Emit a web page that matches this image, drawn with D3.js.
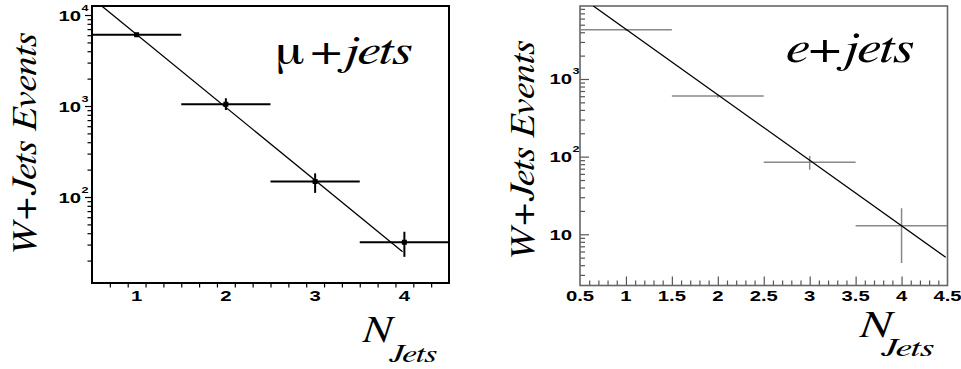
<!DOCTYPE html>
<html lang="en">
<head>
<meta charset="utf-8">
<title>W+jets vs N jets</title>
<script src="https://cdn.jsdelivr.net/npm/d3@7"></script>
<style>
  body { margin:0; background:#fff; }
  svg { display:block; }
  .tick-lbl { font-family:"Liberation Sans", Arial, sans-serif; font-weight:bold; fill:#000; }
  .title { fill:#000; }
</style>
</head>
<body>
<script>
// ---- data ----
// mu+jets
var muN     = [1, 2, 3, 4];
var muY     = [6070, 1045, 148, 31.8];
var muYLo   = [5800, 904, 111, 22];
var muYHi   = [6350, 1216, 182, 41.5];
var muFitN  = [0.609, 3.98];
var muFitY  = [12560, 25];
// e+jets
var eN      = [1, 2, 3, 4];
var eY      = [4300, 604, 84.7, 12.9];
var eYLo    = [4150, 575, 68, 4.27];
var eYHi    = [4450, 635, 102, 21.6];
var eFitN   = [0.645, 4.48];
var eFitY   = [8710, 5.06];
// bins
var binHalf = 0.5;
// axes
var xDomain    = [0.5, 4.5];
var muYDomain  = [11.35, 12560];
var eYDomain   = [2.19, 8710];
var muXLabels  = [1, 2, 3, 4];
var eXLabels   = [0.5, 1, 1.5, 2, 2.5, 3, 3.5, 4, 4.5];
var muYLabels  = [100, 1000, 10000];
var eYLabels   = [10, 100, 1000];

var SERIF = "FreeSerif, 'Liberation Serif', 'Times New Roman', serif";
var W = 961, H = 369;
var svg = d3.select("body").append("svg").attr("width", W).attr("height", H);

// stretch a text so its box spans x0..x1 (horizontal) keeping baseline
function fitH(t, x0, x1, base) {
  var b = t.node().getBBox();
  var s = (x1 - x0) / b.width;
  t.attr("transform", "translate(" + (x0 - b.x * s) + "," + base + ") scale(" + s + ",1)");
}
// rotated -90, text runs upward from yStart to yEnd, baseline at x
function fitV(t, x, yStart, yEnd) {
  var b = t.node().getBBox();
  var s = (yStart - yEnd) / b.width;
  t.attr("transform", "translate(" + x + "," + (yStart + b.x * s) + ") rotate(-90) scale(" + s + ",1)");
}

function minorLog(dom) {
  var out = [];
  for (var e = -1; e < 6; e++) {
    for (var k = 2; k < 10; k++) {
      var v = k * Math.pow(10, e);
      if (v >= dom[0] && v <= dom[1]) out.push(v);
    }
  }
  return out;
}
function majorLog(dom) {
  var out = [];
  for (var e = -1; e < 6; e++) {
    var v = Math.pow(10, e);
    if (v >= dom[0] && v <= dom[1]) out.push(v);
  }
  return out;
}

function panel(cfg) {
  var x = d3.scaleLinear().domain(xDomain).range([cfg.x0, cfg.x1]);
  var y = d3.scaleLog().domain(cfg.yDomain).range([cfg.y1, cfg.y0]);
  var g = svg.append("g");

  var clipId = "clip" + cfg.id;
  svg.append("clipPath").attr("id", clipId).append("rect")
    .attr("x", cfg.x0).attr("y", cfg.y0)
    .attr("width", cfg.x1 - cfg.x0).attr("height", cfg.y1 - cfg.y0);

  // y ticks
  var inner = cfg.inside ? -1 : 1;
  var yMinor = g.append("g").attr("transform", "translate(" + cfg.x0 + ",0)")
    .call(d3.axisLeft(y).tickValues(minorLog(cfg.yDomain)).tickSize(inner * cfg.minLen).tickFormat(""));
  var yMajor = g.append("g").attr("transform", "translate(" + cfg.x0 + ",0)")
    .call(d3.axisLeft(y).tickValues(majorLog(cfg.yDomain)).tickSize(inner * cfg.majLen).tickFormat(""));
  // x ticks
  var xMinorVals = d3.range(0.5, 4.51, cfg.xMinStep).map(function(v){ return Math.round(v*10)/10; })
    .filter(function(v){ return cfg.xMajors.indexOf(v) < 0 && v > 0.5 && v < 4.5; });
  var xMinor = g.append("g").attr("transform", "translate(0," + cfg.y1 + ")")
    .call(d3.axisBottom(x).tickValues(xMinorVals).tickSize(inner * cfg.minLen).tickFormat(""));
  var xMajor = g.append("g").attr("transform", "translate(0," + cfg.y1 + ")")
    .call(d3.axisBottom(x).tickValues(cfg.xMajors).tickSize(inner * cfg.majLen).tickFormat(""));
  [yMinor, yMajor, xMinor, xMajor].forEach(function(a){
    a.select(".domain").remove();
    a.selectAll(".tick line").attr("stroke", cfg.tickColor).attr("stroke-width", cfg.tickW);
  });

  // frame
  g.append("rect").attr("x", cfg.x0).attr("y", cfg.y0)
    .attr("width", cfg.x1 - cfg.x0).attr("height", cfg.y1 - cfg.y0)
    .attr("fill", "none").attr("stroke", cfg.frameColor).attr("stroke-width", cfg.frameW);

  // x tick labels
  cfg.xLabels.forEach(function(v){
    g.append("text").attr("class", "tick-lbl").attr("font-size", 14.5)
      .attr("text-anchor", "middle")
      .attr("transform", "translate(" + x(v) + "," + cfg.xLblBase + ") scale(1.4,1)")
      .text(v);
  });
  // y tick labels (10 with exponent)
  cfg.yLabels.forEach(function(v){
    var lg = g.append("g")
      .attr("transform", "translate(" + cfg.yLblRight + "," + (y(v) + 5.5) + ") scale(1.4,1)");
    lg.append("text").attr("class", "tick-lbl").attr("font-size", 14.5)
      .attr("text-anchor", "end").text("10");
    var ex = Math.round(Math.log10(v));
    if (ex > 1) {
      lg.append("text").attr("class", "tick-lbl").attr("font-size", 9)
        .attr("y", -10).attr("x", 0.3).text(ex);
    }
  });

  // data
  var pts = cfg.n.map(function(n, i){
    return { n: n, y: cfg.y[i], lo: cfg.lo[i], hi: cfg.hi[i] };
  });
  var d = g.append("g").attr("clip-path", "url(#" + clipId + ")");
  d.selectAll(".hbar").data(pts).enter().append("line")
    .attr("x1", function(p){ return x(p.n - binHalf); })
    .attr("x2", function(p){ return x(p.n + binHalf); })
    .attr("y1", function(p){ return y(p.y); })
    .attr("y2", function(p){ return y(p.y); })
    .attr("stroke", cfg.errColor).attr("stroke-width", cfg.errW);
  d.selectAll(".vbar").data(pts).enter().append("line")
    .attr("x1", function(p){ return x(p.n); })
    .attr("x2", function(p){ return x(p.n); })
    .attr("y1", function(p){ return y(p.lo); })
    .attr("y2", function(p){ return y(p.hi); })
    .attr("stroke", cfg.errColor).attr("stroke-width", cfg.errW);
  if (cfg.marker) {
    d.selectAll(".pt").data(pts).enter().append("rect")
      .attr("x", function(p){ return x(p.n) - 2.5; })
      .attr("y", function(p){ return y(p.y) - 2.5; })
      .attr("width", 5).attr("height", 5).attr("fill", "#000");
  }
  // fit
  var fit = cfg.fitN.map(function(n, i){ return [n, cfg.fitY[i]]; });
  d.append("path").datum(fit)
    .attr("d", d3.line().x(function(p){ return x(p[0]); }).y(function(p){ return y(p[1]); }))
    .attr("fill", "none").attr("stroke", "#000").attr("stroke-width", 1.3);

  // y title
  var yt = svg.append("text").attr("class", "title").attr("font-family", SERIF)
    .attr("font-size", 35).attr("font-style", "italic").text("W+Jets Events");
  fitV(yt, cfg.yTitle[0], cfg.yTitle[1], cfg.yTitle[2]);

  // x title N_Jets
  var nt = svg.append("text").attr("class", "title").attr("font-family", SERIF)
    .attr("font-size", 38).attr("font-style", "italic").text("N");
  fitH(nt, cfg.nBox[0], cfg.nBox[1], cfg.nBox[2]);
  var jt = svg.append("text").attr("class", "title").attr("font-family", SERIF)
    .attr("font-size", 25).attr("font-style", "italic").text("Jets");
  fitH(jt, cfg.jBox[0], cfg.jBox[1], cfg.jBox[2]);

  // channel label
  var lt = svg.append("text").attr("class", "title").attr("font-family", SERIF)
    .attr("font-size", cfg.lblSize);
  cfg.lbl.forEach(function(part){
    lt.append("tspan").attr("font-style", part[1] ? "italic" : "normal")
      .attr("dx", part[2] || 0).text(part[0]);
  });
  fitH(lt, cfg.lblBox[0], cfg.lblBox[1], cfg.lblBox[2]);
}

panel({
  id: "mu", x0: 92, x1: 449, y0: 6, y1: 283, yDomain: muYDomain,
  inside: false, minLen: 4.5, majLen: 7, xMinStep: 0.2, xMajors: [],
  tickColor: "#000", tickW: 1.2, frameColor: "#000", frameW: 2,
  xLabels: muXLabels, xLblBase: 300.5, yLabels: muYLabels, yLblRight: 81,
  n: muN, y: muY, lo: muYLo, hi: muYHi, errColor: "#000", errW: 2, marker: true,
  fitN: muFitN, fitY: muFitY,
  yTitle: [36, 257, 32],
  nBox: [362, 396, 341.5], jBox: [389, 437, 361.5],
  lbl: [["\u03bc", false], ["+", false, 5], ["jets", true]], lblSize: 42, lblBox: [275, 412, 63.5]
});

panel({
  id: "e", x0: 580, x1: 947.5, y0: 6, y1: 285.5, yDomain: eYDomain,
  inside: true, minLen: 5, majLen: 9, xMinStep: 0.1, xMajors: [1, 1.5, 2, 2.5, 3, 3.5, 4],
  tickColor: "#555", tickW: 1.2, frameColor: "#666", frameW: 1.6,
  xLabels: eXLabels, xLblBase: 301, yLabels: eYLabels, yLblRight: 572,
  n: eN, y: eY, lo: eYLo, hi: eYHi, errColor: "#888", errW: 1.5, marker: false,
  fitN: eFitN, fitY: eFitY,
  yTitle: [533.5, 262, 40],
  nBox: [859, 896, 336.5], jBox: [881, 934, 355.5],
  lbl: [["e", true], ["+", false], ["jets", true]], lblSize: 44, lblBox: [786, 914, 62]
});
</script>
</body>
</html>
